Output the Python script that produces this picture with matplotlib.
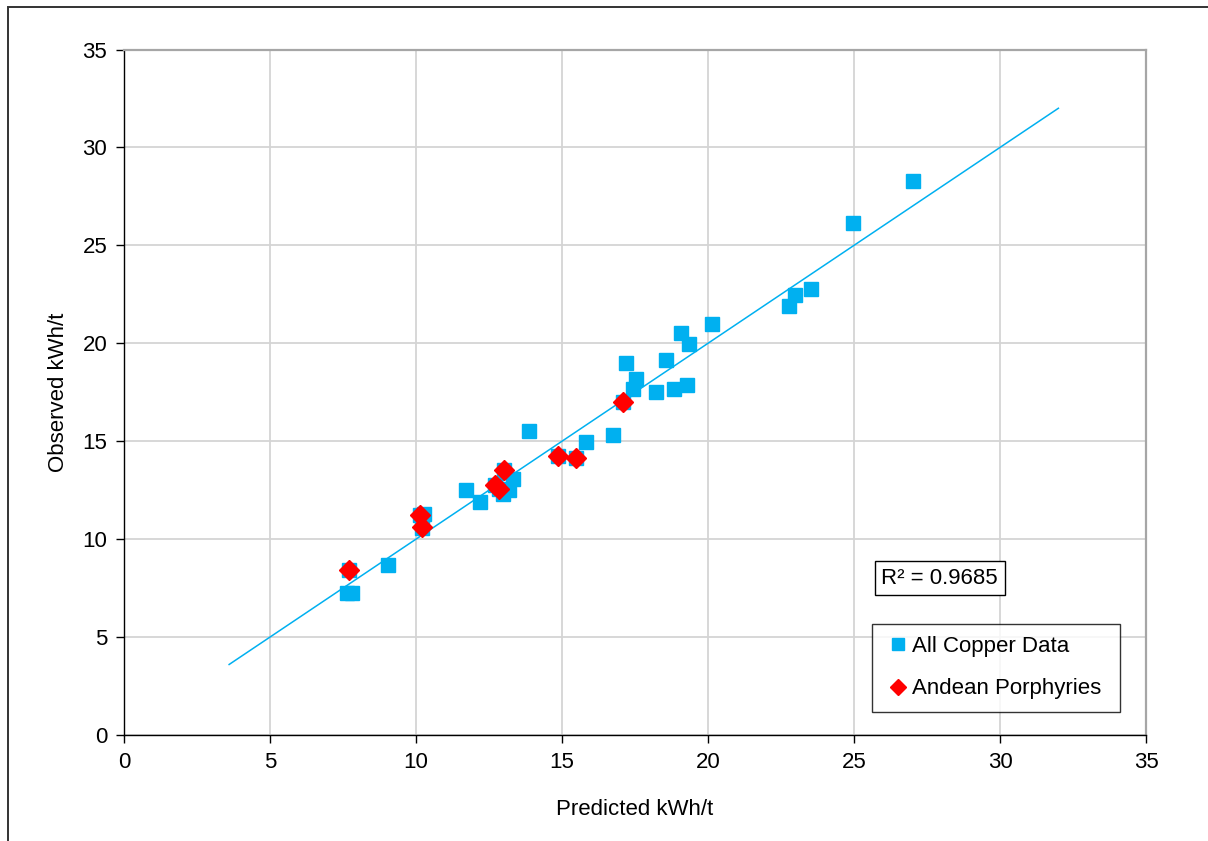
import matplotlib
matplotlib.use("Agg")
import matplotlib.pyplot as plt
from matplotlib.patches import Rectangle
from matplotlib.lines import Line2D

plt.rcParams['font.family'] = ['Liberation Sans', 'DejaVu Sans']

# All copper data (predicted, observed)
copper_pred = [7.63, 7.82, 9.05, 10.27, 10.20, 11.71, 12.19, 12.97, 13.20, 13.33,
               13.88, 15.81, 16.76, 17.19, 17.53, 17.42, 18.22, 18.55, 18.84, 19.27,
               19.07, 19.34, 20.15, 22.78, 22.98, 23.53, 24.98, 27.01,
               7.72, 10.14, 12.84, 12.70, 13.02, 14.88, 15.47, 17.10]
copper_obs = [7.26, 7.24, 8.68, 11.27, 10.55, 12.51, 11.91, 12.29, 12.51, 13.07,
              15.52, 14.98, 15.33, 19.01, 18.19, 17.65, 17.51, 19.15, 17.65, 17.87,
              20.54, 19.95, 20.96, 21.92, 22.48, 22.77, 26.12, 28.30,
              8.41, 11.23, 12.56, 12.76, 13.53, 14.24, 14.12, 17.02]

# Andean porphyries subset
andean_pred = [7.72, 10.14, 10.22, 12.84, 12.70, 13.02, 14.88, 15.47, 17.10]
andean_obs = [8.41, 11.23, 10.64, 12.56, 12.76, 13.53, 14.24, 14.12, 17.02]

# Trendline y = slope * x + intercept, drawn over this predicted range
trend_slope = 1.0
trend_intercept = 0.0
trend_x = [3.6, 32.0]
r_squared = 0.9685

ticks = [0, 5, 10, 15, 20, 25, 30, 35]

W, H = 1208, 841
fig = plt.figure(figsize=(W / 100, H / 100), dpi=100)
ax = fig.add_axes([124 / W, 1 - 735 / H, (1146 - 124) / W, (735 - 49.5) / H])

blue = '#00B0F0'
red = '#FF0000'

trend_y = [trend_slope * v + trend_intercept for v in trend_x]
ax.plot(trend_x, trend_y, color=blue, lw=1.1, zorder=2)
ax.plot(copper_pred, copper_obs, ls='none', marker='s', ms=9.4, color=blue,
        mec=blue, zorder=3)
ax.plot(andean_pred, andean_obs, ls='none', marker='D', ms=9.7, color=red,
        mec=red, zorder=4)

ax.set_xlim(0, 35)
ax.set_ylim(0, 35)
ax.set_xticks(ticks)
ax.set_yticks(ticks)
ax.grid(True, color='#d4d4d4', lw=1.3, zorder=0)
ax.set_axisbelow(True)

for s in ['left', 'bottom']:
    ax.spines[s].set_color('black')
    ax.spines[s].set_linewidth(1.0)
for s in ['top', 'right']:
    ax.spines[s].set_color('#a6a6a6')
    ax.spines[s].set_linewidth(1.6)

ax.tick_params(axis='both', direction='out', length=6, width=1.0, color='black',
               labelsize=16, pad=6, top=False, right=False)

ax.set_xlabel('Predicted kWh/t', fontsize=16, labelpad=19)
ax.set_ylabel('Observed kWh/t', fontsize=16, labelpad=10)

ax.text(0.798, 0.229, f'R\u00b2 = {r_squared}', transform=ax.transAxes,
        ha='center', va='center', fontsize=16,
        bbox=dict(boxstyle='square,pad=0.3', fc='white', ec='black', lw=1.0),
        zorder=6)

handles = [
    Line2D([], [], ls='none', marker='s', ms=9, color=blue, mec=blue),
    Line2D([], [], ls='none', marker='D', ms=8, color=red, mec=red),
]
leg = ax.legend(handles, ['All Copper Data', 'Andean Porphyries'],
                loc='upper left', bbox_to_anchor=(0.732, 0.038, 0.2426, 0.124),
                mode='expand', fontsize=16, frameon=True, fancybox=False,
                edgecolor='black', handlelength=1.2, handletextpad=0.05,
                borderpad=0.55, labelspacing=0.95, borderaxespad=0)
leg.get_frame().set_linewidth(1.0)
leg.set_zorder(6)

# Outer chart frame
fig.patches.append(Rectangle((8 / W, -0.5), 2.0, 0.5 + (1 - 7 / H),
                             transform=fig.transFigure, fill=False,
                             ec='#333333', lw=1.4))

fig.savefig('out.png', dpi=100)
